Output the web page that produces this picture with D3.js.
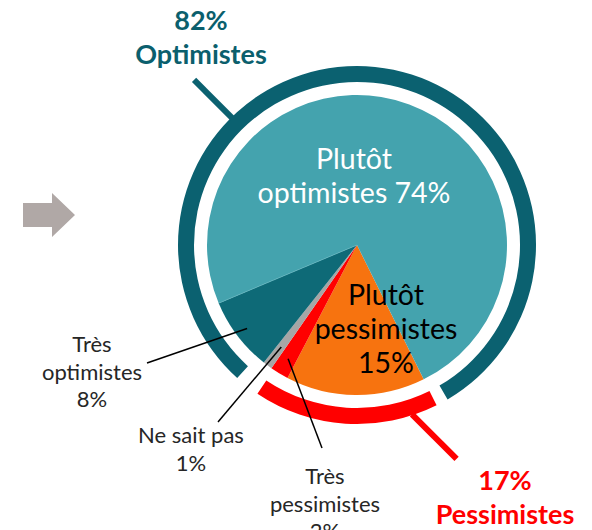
<!DOCTYPE html>
<html>
<head>
<meta charset="utf-8">
<script src="https://cdn.jsdelivr.net/npm/d3@7"></script>
<style>
    body { margin: 0; background: #fff; }
    text { font-family: Lato, "Open Sans", sans-serif; }
</style>
</head>
<body>
<div id="pieChart"></div>
<script>
// slices, clockwise from the start angle
const categories = ["Plutôt pessimistes", "Très pessimistes", "Ne sait pas", "Très optimistes", "Plutôt optimistes"];
const values = [15, 2, 1, 8, 74];
const sliceColors = ["#f7730f", "#ff0000", "#a6a6a6", "#0e6a77", "#44a3ae"];

// outer rings
const groups = ["Pessimistes", "Optimistes"];
const groupValues = [17, 82];
const groupColors = ["#ff0000", "#0b6170"];

const deg = Math.PI / 180;

function pieChart() {
    const width = 592, height = 530;
    const cx = 357, cy = 245;
    const radius = 150;
    const ringInner = 163, ringOuter = 179;

    const svg = d3.select("#pieChart")
        .append("svg")
        .attr("width", width)
        .attr("height", height);

    // grey arrow on the left
    svg.append("path")
        .attr("d", "M23,203 L52,203 L52,193 L75,215 L52,237 L52,227 L23,227 Z")
        .attr("fill", "#b0a8a6");

    const g = svg.append("g").attr("transform", `translate(${cx}, ${cy})`);

    const start = 153.6 * deg;
    const pie = d3.pie().sort(null).value(d => d)
        .startAngle(start).endAngle(start + 2 * Math.PI);
    const arcs = pie(values);

    const arc = d3.arc().innerRadius(0).outerRadius(radius);

    g.selectAll(".slice")
        .data(arcs)
        .join("path")
        .attr("class", "slice")
        .attr("d", arc)
        .attr("fill", (d, i) => sliceColors[i]);

    // thin light edge between the two teal slices
    const edge = arcs[4].startAngle;
    g.append("line")
        .attr("x1", 0).attr("y1", 0)
        .attr("x2", radius * Math.sin(edge)).attr("y2", -radius * Math.cos(edge))
        .attr("stroke", "#5fb3bc").attr("stroke-width", 0.8);

    // rings round the pie: pessimistes = first two slices, optimistes = last two
    const ringArc = d3.arc().innerRadius(ringInner).outerRadius(ringOuter);
    const rings = [
        {startAngle: arcs[0].startAngle, endAngle: arcs[1].endAngle - 1 * deg},
        {startAngle: arcs[3].startAngle + 3.6 * deg, endAngle: arcs[4].endAngle - 4 * deg}
    ];
    g.selectAll(".ring")
        .data(rings)
        .join("path")
        .attr("class", "ring")
        .attr("d", ringArc)
        .attr("fill", (d, i) => groupColors[i]);

    // ring ticks + group labels
    const ticks = [
        {angle: 162 * deg, len: 63, dir: [1, 1], label: [505, 490]},
        {angle: 315.5 * deg, len: 54, dir: [-1, -1], label: [201, 30]}
    ];
    ticks.forEach((t, i) => {
        const x1 = 178 * Math.sin(t.angle), y1 = -178 * Math.cos(t.angle);
        const k = t.len / Math.SQRT2;
        g.append("line")
            .attr("x1", x1).attr("y1", y1)
            .attr("x2", x1 + t.dir[0] * k).attr("y2", y1 + t.dir[1] * k)
            .attr("stroke", groupColors[i]).attr("stroke-width", 6);

        const txt = svg.append("text")
            .attr("text-anchor", "middle")
            .attr("font-weight", "bold")
            .attr("font-size", 27)
            .attr("fill", i === 0 ? "#ff0000" : "#0b5f6d");
        txt.append("tspan").attr("x", t.label[0]).attr("y", t.label[1]).text(groupValues[i] + "%");
        txt.append("tspan").attr("x", t.label[0]).attr("y", t.label[1] + 34).text(groups[i]);
    });

    // big labels inside the pie
    const big = [
        {i: 4, x: 354, y: 169, fill: "#ffffff", lines: ["Plutôt", "optimistes " + values[4] + "%"]},
        {i: 0, x: 386, y: 305, fill: "#000000", lines: ["Plutôt", "pessimistes", values[0] + "%"]}
    ];
    big.forEach(b => {
        const txt = svg.append("text")
            .attr("text-anchor", "middle")
            .attr("font-size", 28.5)
            .attr("fill", b.fill);
        b.lines.forEach((l, j) => {
            txt.append("tspan").attr("x", b.x).attr("y", b.y + j * 34).text(l);
        });
    });

    // small labels with leader lines
    const small = [
        {i: 3, r: 138, lx: 92, ly: 352, line: [147, 363], lines: ["Très", "optimistes", values[3] + "%"]},
        {i: 2, r: 127, lx: 191, ly: 443, line: [218, 422], lines: ["Ne sait pas", values[2] + "%"]},
        {i: 1, r: 133, lx: 325, ly: 484, line: [322, 448], lines: ["Très", "pessimistes", values[1] + "%"]}
    ];
    small.forEach(s => {
        const d = arcs[s.i];
        const a = (d.startAngle + d.endAngle) / 2;
        svg.append("line")
            .attr("x1", cx + s.r * Math.sin(a)).attr("y1", cy - s.r * Math.cos(a))
            .attr("x2", s.line[0]).attr("y2", s.line[1])
            .attr("stroke", "#000").attr("stroke-width", 1.5);

        const txt = svg.append("text")
            .attr("text-anchor", "middle")
            .attr("font-size", 22)
            .attr("fill", "#262626");
        s.lines.forEach((l, j) => {
            txt.append("tspan").attr("x", s.lx).attr("y", s.ly + j * 27.5).text(l);
        });
    });
}

function main() {
    pieChart();
}

main();
</script>
</body>
</html>
